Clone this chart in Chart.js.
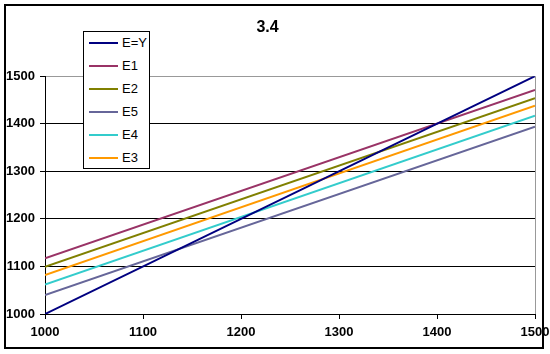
<!DOCTYPE html>
<html>
<head>
<meta charset="utf-8">
<script src="https://cdn.jsdelivr.net/npm/chart.js@4/dist/chart.umd.min.js"></script>
<style>
    body { margin: 0; background: #fff; }
    #wrap { position: relative; width: 550px; height: 354px; }
    #frame {
        position: absolute; left: 4px; top: 4px; width: 540px; height: 345px;
        box-sizing: border-box; border: 2px solid #000; pointer-events: none;
    }
    #legend {
        position: absolute; left: 83px; top: 31px; width: 67px; height: 138px;
        box-sizing: border-box; border: 1px solid #000; background: #fff;
        font: 13px Arial, "Liberation Sans", sans-serif; color: #000;
    }
    .legend-row { position: relative; height: 23px; }
    .legend-line { position: absolute; left: 5px; top: 10px; width: 29px; height: 2px; }
    .legend-text { position: absolute; left: 38px; top: 3px; line-height: 16px; }
</style>
</head>
<body>
<div id="wrap">
    <canvas id="chart" width="550" height="354"></canvas>
    <div id="legend"></div>
    <div id="frame"></div>
</div>
<script>
// Dữ liệu
const xValues = [1000, 1500];
const eyValues = [1000, 1500];
const e1Values = [1117, 1471];
const e2Values = [1099, 1454];
const e5Values = [1040, 1394];
const e4Values = [1062, 1417];
const e3Values = [1082, 1438];
const seriesNames = ['E=Y', 'E1', 'E2', 'E5', 'E4', 'E3'];
const seriesColors = ['#000080', '#993366', '#808000', '#666699', '#33CCCC', '#FF9900'];
const seriesValues = [eyValues, e1Values, e2Values, e5Values, e4Values, e3Values];

const tickFont = { family: 'Arial, "Liberation Sans", sans-serif', size: 13, weight: 'bold' };

const datasets = seriesNames.map((name, i) => ({
    label: name,
    data: xValues.map((x, j) => ({ x: x, y: seriesValues[i][j] })),
    borderColor: seriesColors[i],
    backgroundColor: seriesColors[i],
    borderWidth: 2,
    pointRadius: 0,
    showLine: true,
    fill: false
}));

const ctx = document.getElementById('chart').getContext('2d');
const chart = new Chart(ctx, {
    type: 'scatter',
    data: { datasets: datasets },
    options: {
        responsive: false,
        animation: false,
        layout: { padding: { left: 0, right: 15, top: 0, bottom: 0 } },
        plugins: {
            legend: { display: false },
            tooltip: { enabled: false },
            title: {
                display: true,
                text: '3.4',
                color: '#000',
                font: { family: 'Arial, "Liberation Sans", sans-serif', size: 16, weight: 'bold' },
                padding: { top: 18, bottom: 39 }
            }
        },
        scales: {
            x: {
                type: 'linear',
                min: 1000,
                max: 1500,
                ticks: { stepSize: 100, color: '#000', font: tickFont, padding: 6, maxRotation: 0,
                    callback: v => String(v) },
                grid: {
                    drawOnChartArea: true,
                    color: c => c.tick && c.tick.value === 1500 ? '#999' : 'rgba(0,0,0,0)',
                    tickColor: '#000',
                    tickLength: 5
                },
                border: { display: true, color: '#000', width: 1 },
                afterFit: scale => {
                    scale.height = 40;
                    scale.paddingLeft = 0;
                    scale.paddingRight = 0;
                }
            },
            y: {
                min: 1000,
                max: 1500,
                ticks: { stepSize: 100, color: '#000', font: tickFont, padding: 5,
                    callback: v => String(v) },
                grid: {
                    color: c => c.tick && c.tick.value === 1500 ? '#999' : '#000',
                    tickColor: '#000',
                    tickLength: 5
                },
                border: { display: true, color: '#000', width: 1 },
                afterFit: scale => { scale.width = 45; }
            }
        }
    }
});

// Chú thích dạng HTML đặt trong vùng biểu đồ
const legendBox = document.getElementById('legend');
seriesNames.forEach((name, i) => {
    const row = document.createElement('div');
    row.className = 'legend-row';
    row.innerHTML = `<div class="legend-line" style="background:${seriesColors[i]}"></div>` +
        `<span class="legend-text">${name}</span>`;
    legendBox.appendChild(row);
});
</script>
</body>
</html>
